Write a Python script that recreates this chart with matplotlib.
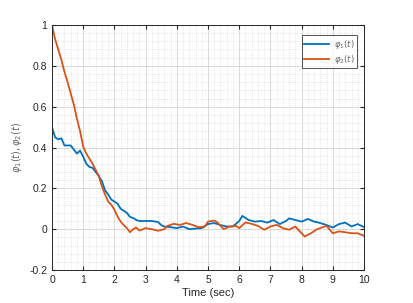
import matplotlib
matplotlib.use("Agg")
import matplotlib.pyplot as plt
from matplotlib.ticker import AutoMinorLocator, MultipleLocator

t1 = [0, 0.1, 0.2, 0.3, 0.4, 0.5, 0.6, 0.7, 0.8, 0.9, 1.0, 1.1, 1.2, 1.3, 1.4, 1.5,
      1.6, 1.7, 1.8, 1.9, 2.0, 2.1, 2.2, 2.3, 2.4, 2.5, 2.6, 2.7, 2.8, 3.0, 3.2, 3.4,
      3.5, 3.6, 3.8, 4.0, 4.2, 4.4, 4.6, 4.8, 5.0, 5.2, 5.4, 5.6, 5.8, 6.0, 6.1, 6.3,
      6.5, 6.7, 6.9, 7.1, 7.3, 7.5, 7.6, 7.8, 8.0, 8.2, 8.4, 8.6, 8.8, 9.0, 9.2, 9.4,
      9.6, 9.8, 10.0]
phi1 = [0.50, 0.45, 0.44, 0.445, 0.41, 0.41, 0.41, 0.39, 0.37, 0.385, 0.355, 0.32,
        0.305, 0.30, 0.28, 0.26, 0.235, 0.19, 0.17, 0.145, 0.135, 0.125, 0.10, 0.09,
        0.08, 0.06, 0.055, 0.045, 0.04, 0.04, 0.04, 0.035, 0.02, 0.013, 0.01, 0.005,
        0.013, 0.0, 0.003, 0.005, 0.025, 0.03, 0.02, 0.013, 0.013, 0.04, 0.065, 0.045,
        0.037, 0.04, 0.032, 0.045, 0.025, 0.04, 0.053, 0.045, 0.037, 0.05, 0.037, 0.03,
        0.02, 0.008, 0.025, 0.032, 0.013, 0.025, 0.01]

t2 = [0, 0.1, 0.2, 0.3, 0.4, 0.5, 0.6, 0.7, 0.8, 0.9, 1.0, 1.1, 1.2, 1.3, 1.4, 1.5,
      1.6, 1.7, 1.8, 1.9, 2.0, 2.1, 2.2, 2.3, 2.4, 2.5, 2.6, 2.7, 2.8, 3.0, 3.2, 3.4,
      3.6, 3.7, 3.9, 4.1, 4.3, 4.5, 4.7, 4.9, 5.0, 5.2, 5.3, 5.5, 5.7, 5.9, 6.0, 6.2,
      6.4, 6.6, 6.8, 7.0, 7.2, 7.4, 7.6, 7.8, 8.0, 8.1, 8.3, 8.5, 8.8, 9.0, 9.2, 9.4,
      9.6, 9.8, 10.0]
phi2 = [1.0, 0.93, 0.88, 0.83, 0.77, 0.72, 0.665, 0.61, 0.54, 0.48, 0.405, 0.37,
        0.345, 0.32, 0.29, 0.26, 0.21, 0.17, 0.135, 0.12, 0.095, 0.062, 0.037, 0.02,
        0.005, -0.015, 0.0, 0.008, -0.007, 0.005, 0.0, -0.008, 0.0, 0.016, 0.026, 0.021,
        0.03, 0.021, 0.01, 0.013, 0.037, 0.042, 0.033, 0.0, 0.013, 0.016, 0.005, 0.033,
        0.026, 0.016, -0.003, 0.013, 0.021, 0.005, -0.003, 0.013, -0.02, -0.036, -0.02,
        0.0, 0.016, -0.02, -0.011, -0.015, -0.02, -0.02, -0.033]

labels = [r'$\varphi_1(t)$', r'$\varphi_2(t)$']

plt.rcParams['font.family'] = ['Liberation Sans', 'DejaVu Sans']
fig = plt.figure(figsize=(4.13, 3.03), dpi=100)
ax = fig.add_axes([52/413, 1 - 270/303, (364-52)/413, (270-25)/303])

ax.plot(t1, phi1, color='#0072BD', lw=1.3, label=labels[0])
ax.plot(t2, phi2, color='#D95319', lw=1.3, label=labels[1])

ax.set_xlim(0, 10)
ax.set_ylim(-0.2, 1)
ax.xaxis.set_major_locator(MultipleLocator(1))
ax.yaxis.set_major_locator(MultipleLocator(0.2))
ax.xaxis.set_minor_locator(AutoMinorLocator(5))
ax.yaxis.set_minor_locator(AutoMinorLocator(5))
ax.set_yticks([-0.2, 0, 0.2, 0.4, 0.6, 0.8, 1])
ax.set_yticklabels(['-0.2', '0', '0.2', '0.4', '0.6', '0.8', '1'])
ax.grid(which='major', color='#d9d9d9', lw=0.7)
ax.grid(which='minor', color='#cfcfcf', lw=0.5, linestyle=(0, (1, 2)))
ax.set_axisbelow(True)
ax.tick_params(which='both', direction='in', top=True, right=True, labelsize=7.5,
               colors='#262626', length=3)
ax.tick_params(which='minor', length=0)
for s in ax.spines.values():
    s.set_color('#262626')
    s.set_linewidth(0.7)

ax.set_xlabel('Time (sec)', fontsize=8, color='#262626', labelpad=2)
ax.set_ylabel(r'$\varphi_1(t),\varphi_2(t)$', fontsize=7, color='#666666', labelpad=4)

leg = ax.legend(loc='upper right', fontsize=6, frameon=True, fancybox=False,
                edgecolor='#262626', handlelength=3.0, borderpad=0.3,
                labelspacing=0.25, handletextpad=0.5, bbox_to_anchor=(0.99, 0.975))
leg.get_frame().set_linewidth(0.7)
for txt in leg.get_texts():
    txt.set_color('#666666')

fig.savefig('out.png', dpi=100)
